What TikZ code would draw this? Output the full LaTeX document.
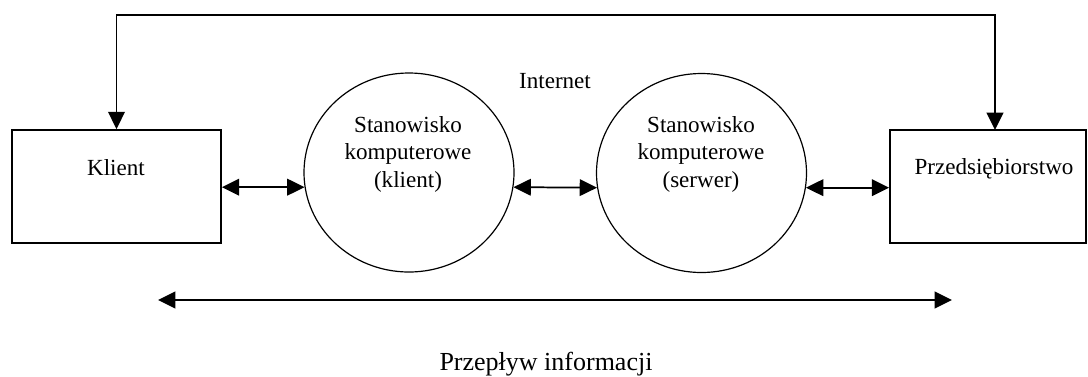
\documentclass[tikz,border=0pt]{standalone}
\usepackage{fontspec}
\setmainfont{Liberation Serif}
\usetikzlibrary{arrows.meta,shapes.geometric}
\begin{document}
\begin{tikzpicture}[x=0.75pt,y=-0.75pt,
  box/.style={draw,line width=1.3pt,rectangle,inner sep=0pt},
  station/.style={draw,line width=0.9pt,ellipse,inner sep=0pt,minimum width=157.5pt,minimum height=149.25pt},
  lbl/.style={font=\fontsize{17.3pt}{20.6pt}\selectfont,inner sep=0pt},
  biglbl/.style={font=\fontsize{19.5pt}{23pt}\selectfont,inner sep=0pt},
  dbl/.style={line width=1.3pt,{Triangle[length=13pt,width=12.5pt]}-{Triangle[length=13pt,width=12.5pt]}}
]
\useasboundingbox (0,0) rectangle (1088,376);

% boxes
\node[box,minimum width=156.75pt,minimum height=84.75pt] (K) at (116.5,186.5) {};
\node[box,minimum width=147pt,minimum height=84.75pt] (P) at (988,186.5) {};

% stations
\node[station] (c1) at (409,172.5) {};
\node[station] (c2) at (701.5,173) {};

% texts
\node[lbl,anchor=base] (Ktext) at (116,175) {Klient};
\node[lbl,anchor=base] (Ptext) at (994,174) {Przedsiębiorstwo};
\node[lbl,anchor=base] (inet) at (555,88) {Internet};
\node[lbl,align=center] (c1text) at (408,154) {Stanowisko\\komputerowe\\(klient)};
\node[lbl,align=center] (c2text) at (701,154) {Stanowisko\\komputerowe\\(serwer)};
\node[biglbl,anchor=base] (flow) at (546,370) {Przepływ informacji};

% connectors
\draw[dbl] (c1.188 -| K.east) -- (c1.188);
\draw[dbl] (c1.-8) -- (c2.188);
\draw[dbl] (c2.-8) -- (c2.-8 -| P.west);

\coordinate (top) at (0,15);
\coordinate (Pin) at (995,130);
\draw[dbl] (K.north) -- (K.north |- top) -| (Pin);

\coordinate (fl) at (158,300);
\coordinate (fr) at (952,300);
\draw[dbl] (fl) -- (fr);
\end{tikzpicture}
\end{document}
